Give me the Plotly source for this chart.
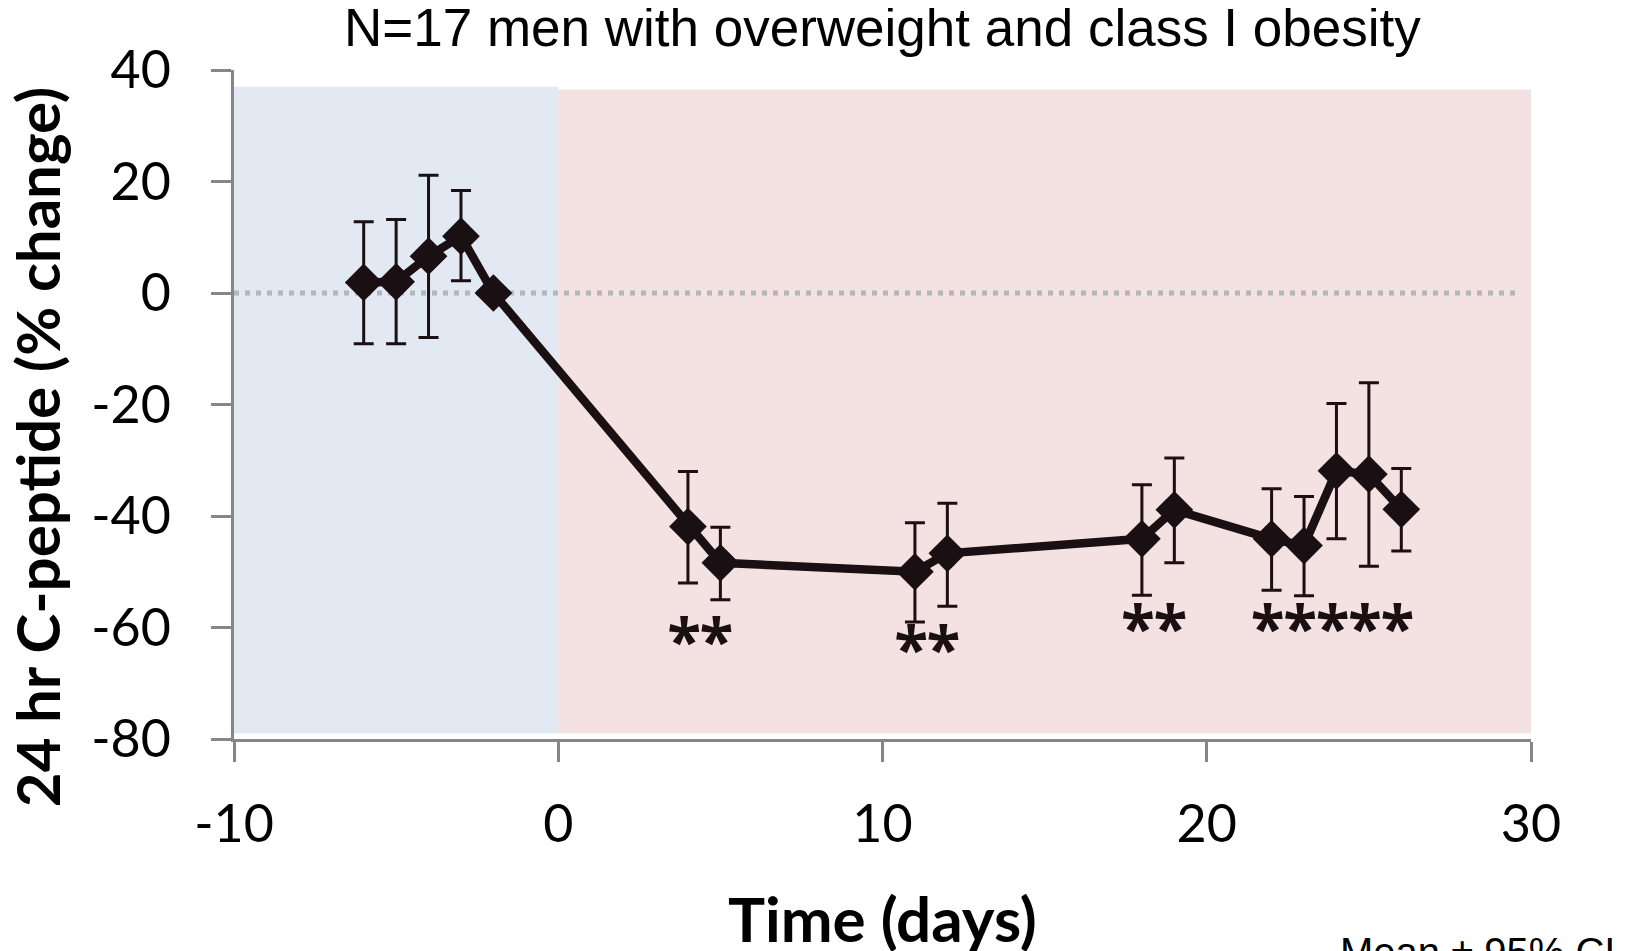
import plotly.graph_objects as go

# ---- data ----
days = [-6, -5, -4, -3, -2, 4, 5, 11, 12, 18, 19, 22, 23, 24, 25, 26]
pct_change = [1.9, 2.0, 6.6, 10.2, 0.0, -41.9, -48.4, -50.0, -46.7, -44.1, -38.9, -44.1, -45.3, -31.9, -32.5, -38.8]
ci_high = [12.8, 13.2, 21.1, 18.4, 0.0, -32.0, -42.0, -41.2, -37.7, -34.4, -29.6, -35.1, -36.5, -19.8, -16.1, -31.5]
ci_low = [-9.1, -9.1, -8.0, 2.2, 0.0, -52.0, -55.0, -59.0, -56.2, -54.2, -48.4, -53.3, -54.3, -44.1, -49.0, -46.3]

sig_days = [4, 5, 11, 12, 18, 19, 22, 23, 24, 25, 26]
sig_labels = ["*"] * len(sig_days)
sig_level = [-61.5, -61.5, -63.0, -63.0, -59.3, -59.3, -59.3, -59.3, -59.3, -59.3, -59.3]

baseline_phase = (-10, 0)
diet_phase = (0, 30)

x_ticks = [-10, 0, 10, 20, 30]
x_tick_text = ["-10", "0", "10", "20", "30"]
y_ticks = [-80, -60, -40, -20, 0, 20, 40]
y_tick_text = ["-80", "-60", "-40", "-20", "0", "20", "40"]

title_text = "N=17 men with overweight and class I obesity"
y_title = "24 hr C-peptide (% change)"
x_title = "Time (days)"
note_text = "Mean ± 95% CI"

# ---- figure ----
LINE_COL = "#1a0f12"
FONT = "Lato, 'Open Sans', sans-serif"

err_plus = [h - v for h, v in zip(ci_high, pct_change)]
err_minus = [v - l for l, v in zip(ci_low, pct_change)]

fig = go.Figure()

fig.add_trace(go.Scatter(
    x=days, y=pct_change, mode="lines+markers",
    line=dict(color=LINE_COL, width=8.5),
    marker=dict(symbol="diamond", size=29, color=LINE_COL),
    error_y=dict(type="data", symmetric=False, array=err_plus, arrayminus=err_minus,
                 color=LINE_COL, thickness=3, width=10),
    showlegend=False, hoverinfo="x+y",
))

fig.add_trace(go.Scatter(
    x=[d - 0.12 for d in sig_days], y=[v - 2.2 for v in sig_level], mode="text", text=sig_labels,
    textposition="middle center",
    textfont=dict(family="'Open Sans', sans-serif", size=62, color=LINE_COL, weight="bold"),
    showlegend=False, hoverinfo="skip",
))

# phase shading
fig.add_shape(type="rect", xref="x", yref="y", x0=baseline_phase[0], x1=baseline_phase[1],
              y0=-79, y1=37, fillcolor="#e3e9f3", line=dict(width=0), layer="below")
fig.add_shape(type="rect", xref="x", yref="y", x0=diet_phase[0], x1=diet_phase[1],
              y0=-79, y1=36.5, fillcolor="#f4e2e3", line=dict(width=0), layer="below")
# dotted zero line
fig.add_shape(type="line", xref="x", yref="y", x0=-10, x1=29.6, y0=0, y1=0,
              line=dict(color="#b2b6be", width=5, dash="5px,6px"), layer="below")

axis_common = dict(showgrid=False, zeroline=False, showline=True, linecolor="#868686",
                   linewidth=2.5, ticks="outside", ticklen=20, tickwidth=2.5,
                   tickcolor="#868686", automargin=False,
                   tickfont=dict(family=FONT, size=52, color="#000000"))

fig.update_xaxes(range=[-10, 30], tickvals=x_ticks, ticktext=x_tick_text,
                 ticklabelstandoff=18, **axis_common)
fig.update_yaxes(range=[-80, 40], tickvals=y_ticks, ticktext=y_tick_text,
                 ticklabelstandoff=30, **axis_common)

fig.add_annotation(text=title_text, xref="paper", yref="paper", x=0.5, y=1.064,
                   showarrow=False, xanchor="center", yanchor="middle",
                   font=dict(family="Liberation Sans, Arial, sans-serif",
                             size=53, color="#000000"))
fig.add_annotation(text=y_title, xref="paper", yref="paper", x=-0.152, y=0.436,
                   textangle=-90, showarrow=False, xanchor="center", yanchor="middle",
                   font=dict(family=FONT, size=60, color="#000000", weight="bold"))
fig.add_annotation(text=x_title, xref="paper", yref="paper", x=0.5, y=-0.268,
                   showarrow=False, xanchor="center", yanchor="middle",
                   font=dict(family=FONT, size=62, color="#000000", weight="bold"))
fig.add_annotation(text=note_text, xref="paper", yref="paper", x=0.851, y=-0.283,
                   showarrow=False, xanchor="left", yanchor="top",
                   font=dict(family="Liberation Sans, Arial, sans-serif", size=40, color="#000000"))

# page body has an 8px margin: size the figure so that it fits the window
fig.update_layout(
    width=1628, height=943, autosize=False,
    margin=dict(l=226, r=105, t=62, b=212),
    paper_bgcolor="#ffffff", plot_bgcolor="#ffffff",
)

fig.write_html("out.html")
